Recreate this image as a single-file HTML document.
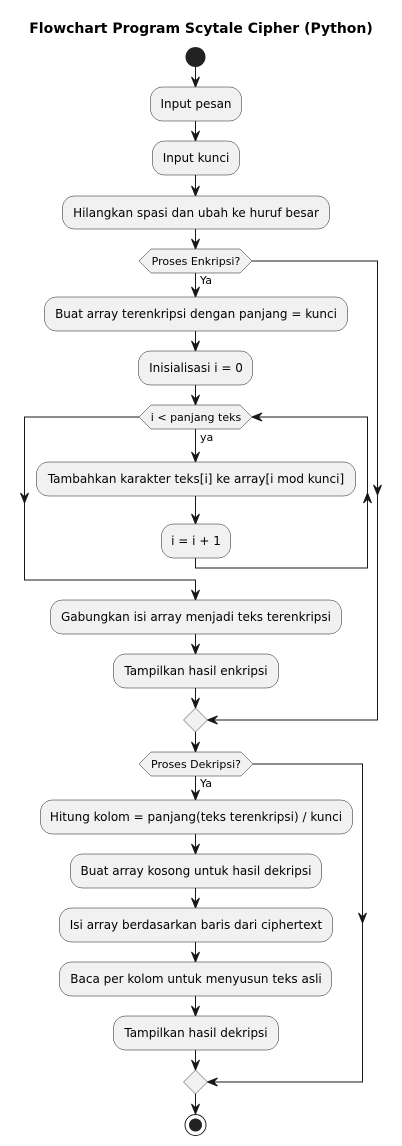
<!DOCTYPE html>
<html><head><meta charset="utf-8"><style>body{margin:0;background:#fff}svg{display:block}</style></head><body>
<svg width="402" height="1146" xmlns="http://www.w3.org/2000/svg" font-family="DejaVu Sans, Liberation Sans, sans-serif">
<defs>
<g id="ad"><polygon points="0,0 -4,-10 0,-6 4,-10" fill="#181818" stroke="#181818" stroke-width="1"/></g>
<g id="au"><polygon points="0,0 -4,10 0,6 4,10" fill="#181818" stroke="#181818" stroke-width="1"/></g>
<g id="al"><polygon points="0,0 10,-4 6,0 10,4" fill="#181818" stroke="#181818" stroke-width="1"/></g>
</defs>
<text x="201" y="33" text-anchor="middle" font-weight="bold" font-size="14">Flowchart Program Scytale Cipher (Python)</text>
<circle cx="195.5" cy="57" r="10" fill="#222"/>
<g stroke="#181818" stroke-width="1" fill="none">
<line x1="195.5" y1="67" x2="195.5" y2="87"/>
<line x1="195.5" y1="121" x2="195.5" y2="141"/>
<line x1="195.5" y1="175" x2="195.5" y2="196"/>
<line x1="195.5" y1="229" x2="195.5" y2="249"/>
<line x1="195.5" y1="273" x2="195.5" y2="297"/>
<line x1="195.5" y1="331" x2="195.5" y2="351"/>
<line x1="195.5" y1="385" x2="195.5" y2="405"/>
<line x1="195.5" y1="429" x2="195.5" y2="462"/>
<line x1="195.5" y1="496" x2="195.5" y2="524"/>
<polyline points="195.5,558 195.5,568 367.5,568 367.5,417 252,417"/>
<polyline points="139,417 24.5,417 24.5,580 195.5,580 195.5,600"/>
<line x1="195.5" y1="634" x2="195.5" y2="654"/>
<line x1="195.5" y1="688" x2="195.5" y2="708"/>
<polyline points="252,261 377.5,261 377.5,720 207.5,720"/>
<line x1="195.5" y1="732" x2="195.5" y2="752"/>
<line x1="195.5" y1="776" x2="195.5" y2="800"/>
<line x1="195.5" y1="834" x2="195.5" y2="854"/>
<line x1="195.5" y1="888" x2="195.5" y2="908"/>
<line x1="195.5" y1="942" x2="195.5" y2="962"/>
<line x1="195.5" y1="996" x2="195.5" y2="1016"/>
<line x1="195.5" y1="1050" x2="195.5" y2="1070"/>
<polyline points="253,764 362.5,764 362.5,1082 207.5,1082"/>
<line x1="195.5" y1="1094" x2="195.5" y2="1114"/>
</g>
<g>
<use href="#ad" x="195.5" y="87"/><use href="#ad" x="195.5" y="141"/><use href="#ad" x="195.5" y="196"/>
<use href="#ad" x="195.5" y="249"/><use href="#ad" x="195.5" y="297"/><use href="#ad" x="195.5" y="351"/>
<use href="#ad" x="195.5" y="405"/><use href="#ad" x="195.5" y="462"/><use href="#ad" x="195.5" y="524"/>
<use href="#ad" x="24.5" y="503"/><use href="#au" x="367.5" y="493"/><use href="#al" x="252" y="417"/>
<use href="#ad" x="195.5" y="600"/><use href="#ad" x="195.5" y="654"/><use href="#ad" x="195.5" y="708"/>
<use href="#ad" x="377.5" y="495"/><use href="#al" x="207.5" y="720"/>
<use href="#ad" x="195.5" y="752"/><use href="#ad" x="195.5" y="800"/><use href="#ad" x="195.5" y="854"/>
<use href="#ad" x="195.5" y="908"/><use href="#ad" x="195.5" y="962"/><use href="#ad" x="195.5" y="1016"/>
<use href="#ad" x="195.5" y="1070"/><use href="#ad" x="362.5" y="923"/><use href="#al" x="207.5" y="1082"/>
<use href="#ad" x="195.5" y="1114"/>
</g>
<g fill="#F1F1F1" stroke="#181818" stroke-width="0.5">
<rect x="150.5" y="87" width="91" height="34" rx="12"/>
<rect x="152.5" y="141" width="87" height="34" rx="12"/>
<rect x="62.5" y="196" width="267" height="33" rx="12"/>
<polygon points="151,249 240,249 252,261 240,273 151,273 139,261"/>
<rect x="44.5" y="297" width="303" height="34" rx="12"/>
<rect x="138.5" y="351" width="114" height="34" rx="12"/>
<polygon points="151,405 240,405 252,417 240,429 151,429 139,417"/>
<rect x="36.5" y="462" width="319" height="34" rx="12"/>
<rect x="161.5" y="524" width="69" height="34" rx="12"/>
<rect x="50.5" y="600" width="291" height="34" rx="12"/>
<rect x="113.5" y="654" width="165" height="34" rx="12"/>
<polygon points="195.5,708 207.5,720 195.5,732 183.5,720"/>
<polygon points="151,752 241,752 253,764 241,776 151,776 139,764"/>
<rect x="40.5" y="800" width="312" height="34" rx="12"/>
<rect x="70.5" y="854" width="251" height="34" rx="12"/>
<rect x="59.5" y="908" width="273" height="34" rx="12"/>
<rect x="59.5" y="962" width="272" height="34" rx="12"/>
<rect x="113.5" y="1016" width="165" height="34" rx="12"/>
<polygon points="195.5,1070 207.5,1082 195.5,1094 183.5,1082"/>
</g>
<circle cx="195.5" cy="1125" r="10.5" fill="none" stroke="#222" stroke-width="1"/>
<circle cx="195.5" cy="1125" r="6.5" fill="#222"/>
<g font-size="12" fill="#000" text-anchor="middle">
<text x="196" y="108">Input pesan</text>
<text x="196" y="162">Input kunci</text>
<text x="196" y="217">Hilangkan spasi dan ubah ke huruf besar</text>
<text x="196" y="318">Buat array terenkripsi dengan panjang = kunci</text>
<text x="196" y="372">Inisialisasi i = 0</text>
<text x="196" y="483">Tambahkan karakter teks[i] ke array[i mod kunci]</text>
<text x="196" y="545">i = i + 1</text>
<text x="196" y="621">Gabungkan isi array menjadi teks terenkripsi</text>
<text x="196" y="675">Tampilkan hasil enkripsi</text>
<text x="196" y="821">Hitung kolom = panjang(teks terenkripsi) / kunci</text>
<text x="196" y="875">Buat array kosong untuk hasil dekripsi</text>
<text x="196" y="929">Isi array berdasarkan baris dari ciphertext</text>
<text x="196" y="983">Baca per kolom untuk menyusun teks asli</text>
<text x="196" y="1037">Tampilkan hasil dekripsi</text>
</g>
<g font-size="11" fill="#000">
<text x="196" y="265" text-anchor="middle">Proses Enkripsi?</text>
<text x="196" y="421" text-anchor="middle">i &lt; panjang teks</text>
<text x="196" y="768" text-anchor="middle">Proses Dekripsi?</text>
<text x="200" y="284">Ya</text>
<text x="200" y="441">ya</text>
<text x="200" y="787">Ya</text>
</g>
</svg>
</body></html>
